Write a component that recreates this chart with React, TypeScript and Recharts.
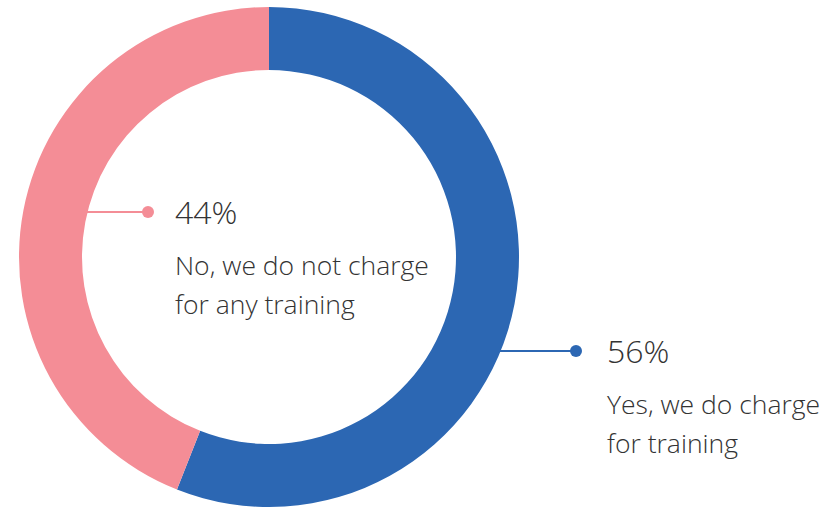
import React from "react";
import { PieChart, Pie, Cell } from "recharts";

const answers = ["Yes, we do charge for training", "No, we do not charge for any training"];
const shares = [56, 44];
const answerLines = [
  ["Yes, we do charge", "for training"],
  ["No, we do not charge", "for any training"]
];

const colors = ["#2c67b3", "#f48d96"];
const textColor = "#333333";

const data = answers.map((name, i) => ({ name, value: shares[i] }));

// where each callout sits, relative to the pie centre
const callouts = [
  { dy: 94, dotDx: 307, textDx: 338, side: 1 },
  { dy: -45, dotDx: -121, textDx: -94, side: -1 }
];

const renderLabel = (props: any) => {
  const { cx, cy, innerRadius, outerRadius, index, percent } = props;
  const c = callouts[index];
  const r = (innerRadius + outerRadius) / 2;
  const y = cy + c.dy;
  const x0 = cx + c.side * Math.sqrt(r * r - c.dy * c.dy);
  const tx = cx + c.textDx;
  return (
    <g>
      <line x1={x0} y1={y} x2={cx + c.dotDx} y2={y} stroke={colors[index]} strokeWidth={2} />
      <circle cx={cx + c.dotDx} cy={y} r={6} fill={colors[index]} />
      <text x={tx} y={y + 12} fill={textColor} fontSize={32} fontWeight={300}>
        {`${Math.round(percent * 100)}%`}
      </text>
      {answerLines[index].map((line, k) => (
        <text key={k} x={tx} y={y + 63 + k * 39} fill={textColor} fontSize={26.5} fontWeight={300}>
          {line}
        </text>
      ))}
    </g>
  );
};

export default function App() {
  return (
    <div style={{ position: "absolute", left: 0, top: 0, fontFamily: "'Open Sans', sans-serif" }}>
      <PieChart width={829} height={507} margin={{ top: 0, right: 0, bottom: 0, left: 0 }}>
        <Pie
          data={data}
          dataKey="value"
          nameKey="name"
          cx={269}
          cy={257}
          innerRadius={187}
          outerRadius={250}
          startAngle={90}
          endAngle={-270}
          stroke="none"
          label={renderLabel}
          labelLine={false}
          isAnimationActive={false}
        >
          {data.map((_, i) => (
            <Cell key={i} fill={colors[i]} />
          ))}
        </Pie>
      </PieChart>
    </div>
  );
}
